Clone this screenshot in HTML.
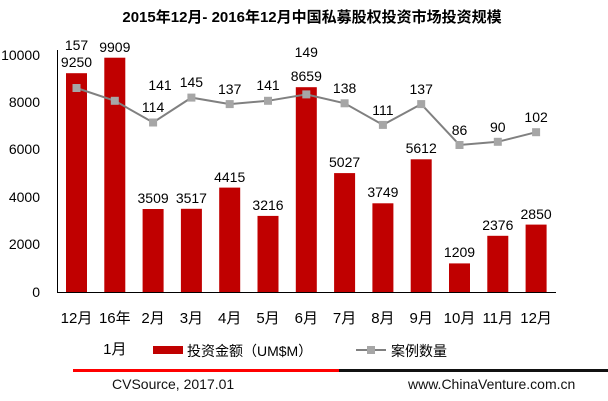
<!DOCTYPE html>
<html><head><meta charset="utf-8"><style>
html,body{margin:0;padding:0;background:#fff;}
svg{display:block;font-family:"Liberation Sans","Noto Sans CJK SC",sans-serif;}
</style></head><body>
<svg width="608" height="401" viewBox="0 0 608 401">
<text x="312" y="22" text-anchor="middle" font-size="15" font-weight="bold" fill="#000">2015年12月- 2016年12月中国私募股权投资市场投资规模</text>
<g font-size="14" fill="#000" text-anchor="end">
<text x="40" y="60">10000</text><text x="40" y="107">8000</text><text x="40" y="154">6000</text>
<text x="40" y="202">4000</text><text x="40" y="249">2000</text><text x="40" y="297">0</text>
</g>
<g fill="#c00000">
<rect x="66" y="73.2" width="21" height="218.8"/>
<rect x="104.3" y="57.7" width="21" height="234.3"/>
<rect x="142.6" y="209" width="21" height="83"/>
<rect x="180.9" y="208.8" width="21" height="83.2"/>
<rect x="219.2" y="187.6" width="21" height="104.4"/>
<rect x="257.5" y="215.9" width="21" height="76.1"/>
<rect x="295.8" y="87.2" width="21" height="204.8"/>
<rect x="334.1" y="173.1" width="21" height="118.9"/>
<rect x="372.4" y="203.3" width="21" height="88.7"/>
<rect x="410.7" y="159.3" width="21" height="132.7"/>
<rect x="449" y="263.4" width="21" height="28.6"/>
<rect x="487.3" y="235.8" width="21" height="56.2"/>
<rect x="525.6" y="224.6" width="21" height="67.4"/>
</g>
<line x1="57.5" y1="50" x2="57.5" y2="292.5" stroke="#000" stroke-width="1"/>
<line x1="57" y1="292.5" x2="556" y2="292.5" stroke="#000" stroke-width="1"/>
<g font-size="14" fill="#000" text-anchor="middle">
<text x="76.5" y="67">9250</text>
<text x="114.8" y="52">9909</text>
<text x="153.1" y="203">3509</text>
<text x="191.4" y="203">3517</text>
<text x="229.7" y="182">4415</text>
<text x="268" y="210">3216</text>
<text x="306.3" y="81">8659</text>
<text x="344.6" y="167">5027</text>
<text x="382.9" y="197">3749</text>
<text x="421.2" y="153">5612</text>
<text x="459.5" y="257">1209</text>
<text x="497.8" y="230">2376</text>
<text x="536.1" y="219">2850</text>
</g>
<polyline fill="none" stroke="#808080" stroke-width="2" points="76.5,88 114.8,100.8 153.1,122.5 191.4,97.6 229.7,104.1 268,100.8 306.3,94.4 344.6,103.3 382.9,124.9 421.2,104.1 459.5,145 497.8,141.8 536.1,132.2"/>
<g fill="#a6a6a6">
<rect x="72.5" y="84" width="8" height="8"/>
<rect x="110.8" y="96.8" width="8" height="8"/>
<rect x="149.1" y="118.5" width="8" height="8"/>
<rect x="187.4" y="93.6" width="8" height="8"/>
<rect x="225.7" y="100.1" width="8" height="8"/>
<rect x="264" y="96.8" width="8" height="8"/>
<rect x="302.3" y="90.4" width="8" height="8"/>
<rect x="340.6" y="99.3" width="8" height="8"/>
<rect x="378.9" y="120.9" width="8" height="8"/>
<rect x="417.2" y="100.1" width="8" height="8"/>
<rect x="455.5" y="141" width="8" height="8"/>
<rect x="493.8" y="137.8" width="8" height="8"/>
<rect x="532.1" y="128.2" width="8" height="8"/>
</g>
<g font-size="14" fill="#000" text-anchor="middle">
<text x="76.5" y="50">157</text>
<text x="160" y="90">141</text>
<text x="153.1" y="112">114</text>
<text x="191.4" y="87">145</text>
<text x="229.7" y="94">137</text>
<text x="268" y="90">141</text>
<text x="306.3" y="57">149</text>
<text x="344.6" y="93">138</text>
<text x="382.9" y="115">111</text>
<text x="421.2" y="94">137</text>
<text x="459.5" y="135">86</text>
<text x="497.8" y="132">90</text>
<text x="536.1" y="122">102</text>
</g>
<g font-size="15" fill="#000" text-anchor="middle">
<text x="76.5" y="323">12月</text><text x="114.8" y="323">16年</text><text x="153.1" y="323">2月</text>
<text x="191.4" y="323">3月</text><text x="229.7" y="323">4月</text><text x="268" y="323">5月</text>
<text x="306.3" y="323">6月</text><text x="344.6" y="323">7月</text><text x="382.9" y="323">8月</text>
<text x="421.2" y="323">9月</text><text x="459.5" y="323">10月</text><text x="497.8" y="323">11月</text>
<text x="536.1" y="323">12月</text>
</g>
<text x="114.8" y="354" font-size="15" text-anchor="middle">1月</text>
<rect x="153" y="346" width="30" height="8" fill="#c00000"/>
<text x="187" y="356" font-size="14">投资金额（UM$M）</text>
<line x1="356" y1="350" x2="386" y2="350" stroke="#808080" stroke-width="2"/>
<rect x="367" y="346" width="8" height="8" fill="#a6a6a6"/>
<text x="391" y="356" font-size="14">案例数量</text>
<rect x="73" y="369" width="266" height="3" fill="#ff0000"/>
<rect x="339" y="369" width="269" height="3" fill="#111"/>
<text x="112" y="389" font-size="14" fill="#111">CVSource, 2017.01</text>
<text x="408" y="389" font-size="14" fill="#111">www.ChinaVenture.com.cn</text>
</svg>
</body></html>
